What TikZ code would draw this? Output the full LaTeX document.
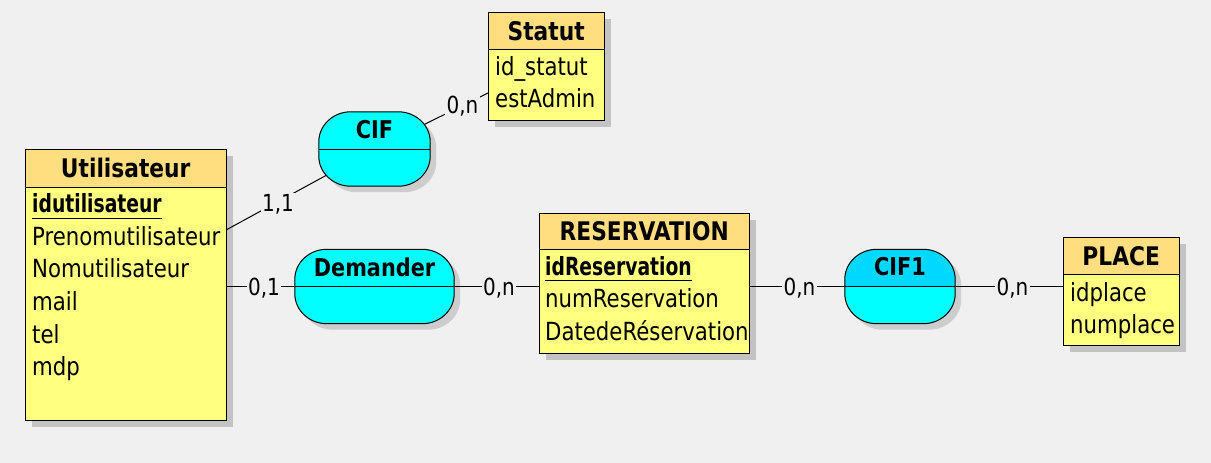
\documentclass[tikz,border=0pt]{standalone}
\usepackage{fontspec}
\setmainfont{DejaVu Sans}[FakeStretch=0.85]
\newfontfamily\idfont{DejaVu Sans}[FakeStretch=0.75]
\usetikzlibrary{calc}
\definecolor{bg}{RGB}{240,240,240}
\definecolor{hdr}{RGB}{255,222,128}
\definecolor{bodyc}{RGB}{255,255,128}
\definecolor{cyanA}{RGB}{0,255,255}
\definecolor{cyanB}{RGB}{0,216,255}
\definecolor{shad}{RGB}{195,195,195}
\definecolor{shadA}{RGB}{205,205,205}
\pgfdeclarelayer{shadow}
\pgfdeclarelayer{lines}
\pgfsetlayers{shadow,lines,main}
% outline of an association: #1 node name, #2 dx, #3 dy (offset)
\newcommand\assocoutline[3]{%
  ($(#1.north west)+(32+#2,#3)$) -- ($(#1.north east)+(-32+#2,#3)$)
  arc[start angle=90,end angle=0,x radius=32pt,y radius=30pt]
  -- ($(#1.south east)+(#2,-30+#3)$)
  arc[start angle=0,end angle=-90,x radius=32pt,y radius=30pt]
  -- ($(#1.south west)+(32+#2,#3)$)
  arc[start angle=270,end angle=180,x radius=32pt,y radius=30pt]
  -- ($(#1.north west)+(#2,30+#3)$)
  arc[start angle=180,end angle=90,x radius=32pt,y radius=30pt] -- cycle}
\begin{document}
\begin{tikzpicture}[x=1pt,y=-1pt,line width=1pt,
  ebody/.style={draw,fill=bodyc,inner sep=0pt,anchor=north west},
  ehead/.style={draw,fill=hdr,inner sep=0pt,anchor=north west,font=\fontsize{25.6}{30}\selectfont\bfseries},
  attr/.style={inner sep=0pt,anchor=base west,font=\fontsize{25}{30}\selectfont},
  idattr/.style={inner sep=0pt,anchor=base west,font=\fontsize{25}{30}\idfont\bfseries},
  assoc/.style={inner sep=0pt,minimum height=74pt},
  assocfill/.style={draw,fill=cyanA,line width=1pt},
  atitle/.style={inner sep=0pt,anchor=base,font=\fontsize{24.5}{29}\selectfont\bfseries},
  card/.style={fill=bg,inner sep=1.5pt,anchor=base,font=\fontsize{23.5}{28}\selectfont},
  conn/.style={line width=1pt}
]
\useasboundingbox (0,0) rectangle (1211,463);
\begin{pgfonlayer}{shadow}
\fill[bg] (0,0) rectangle (1211,463);
\end{pgfonlayer}

% ---------- Entities ----------
\node[ebody,minimum width=201pt,minimum height=271pt] (U) at (25,149) {};
\node[ehead,minimum width=201pt,minimum height=38pt] (Uh) at (25,149) {Utilisateur};
\node[idattr] (U1) at (32,212.7) {idutilisateur};
\node[attr] (U2) at (32,245.3) {Prenomutilisateur};
\node[attr] (U3) at (32,277.9) {Nomutilisateur};
\node[attr] (U4) at (32,310.5) {mail};
\node[attr] (U5) at (32,343.1) {tel};
\node[attr] (U6) at (32,375.7) {mdp};
\draw[line width=1pt] ([yshift=-5.5pt]U1.base west) -- ([yshift=-5.5pt]U1.base east);

\node[ebody,minimum width=116pt,minimum height=108pt] (S) at (488,12) {};
\node[ehead,minimum width=116pt,minimum height=37pt] (Sh) at (488,12) {Statut};
\node[attr] (S1) at (495,75) {id\_statut};
\node[attr] (S2) at (495,107) {estAdmin};

\node[ebody,minimum width=210pt,minimum height=140pt] (R) at (539,213) {};
\node[ehead,minimum width=210pt,minimum height=36pt] (Rh) at (539,213) {RESERVATION};
\node[idattr] (R1) at (545,275) {idReservation};
\node[attr] (R2) at (545,307.5) {numReservation};
\node[attr] (R3) at (545,340) {DatedeRéservation};
\draw[line width=1pt] ([yshift=-5.5pt]R1.base west) -- ([yshift=-5.5pt]R1.base east);

\node[ebody,minimum width=116pt,minimum height=108pt] (P) at (1063,237) {};
\node[ehead,minimum width=116pt,minimum height=37pt] (Ph) at (1063,237) {PLACE};
\node[attr] (P1) at (1070,301) {idplace};
\node[attr] (P2) at (1070,333) {numplace};

% ---------- Associations ----------
\node[assoc,minimum width=111pt] (CIF) at (374.5,149) {};
\path[assocfill] \assocoutline{CIF}{0}{0};
\draw (CIF.west) -- (CIF.east);
\node[atitle] (CIFt) at ($(CIF.center)+(0,-10.7)$) {CIF};

\node[assoc,minimum width=159pt] (Dem) at (374.5,286.5) {};
\path[assocfill] \assocoutline{Dem}{0}{0};
\draw (Dem.west) -- (Dem.east);
\node[atitle] (Demt) at ($(Dem.center)+(0,-10.5)$) {Demander};

\node[assoc,minimum width=110pt] (C1) at (900,286.5) {};
\fill[cyanA] \assocoutline{C1}{0}{0};
\begin{scope}
  \clip \assocoutline{C1}{0}{0};
  \fill[cyanB] (C1.north west) rectangle (C1.east);
\end{scope}
\draw[line width=1pt] \assocoutline{C1}{0}{0};
\draw (C1.west) -- (C1.east);
\node[atitle] (C1t) at ($(C1.center)+(0,-11)$) {CIF1};

% ---------- Shadows ----------
\begin{pgfonlayer}{shadow}
\foreach \n in {U,S,R,P}{
  \fill[shad] ($(\n.north west)+(7,7)$) rectangle ($(\n.south east)+(7,7)$);
}
\foreach \n in {CIF,Dem,C1}{
  \fill[shadA] \assocoutline{\n}{6}{6};
}
\end{pgfonlayer}

% ---------- Connectors ----------
\coordinate (u1) at (226,230);
\coordinate (s1) at (488,93);
\begin{pgfonlayer}{lines}
\draw[conn] (u1) -- (CIF.center);
\draw[conn] (CIF.center) -- (s1);
\draw[conn] (U.east |- Dem.center) -- (Dem.center);
\draw[conn] (Dem.center) -- (R.west |- Dem.center);
\draw[conn] (R.east |- C1.center) -- (C1.center);
\draw[conn] (C1.center) -- (P.west |- C1.center);
\end{pgfonlayer}

% ---------- Cardinalities ----------
\node[card] (k1) at (278,211.7) {1,1};
\node[card] (k2) at (462.5,113.3) {0,n};
\node[card] (k3) at (264,295) {0,1};
\node[card] (k4) at (499,295) {0,n};
\node[card] (k5) at (799.5,295) {0,n};
\node[card] (k6) at (1012.5,295) {0,n};
\end{tikzpicture}
\end{document}
